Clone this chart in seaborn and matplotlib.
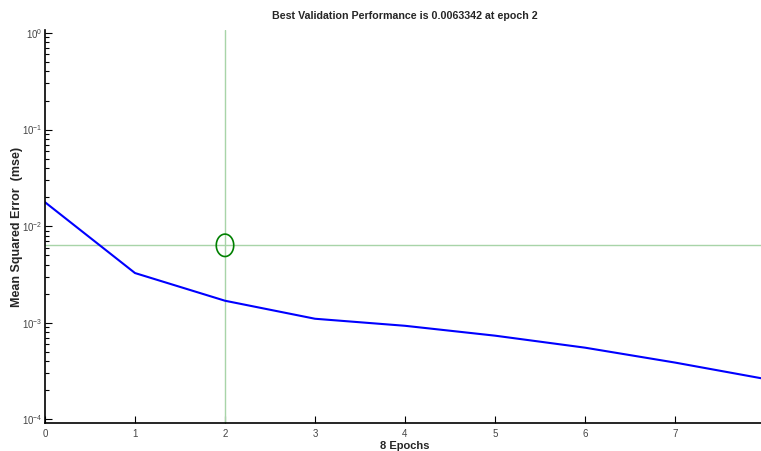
import numpy as np
import pandas as pd
import matplotlib
matplotlib.use('Agg')
import matplotlib.pyplot as plt
import seaborn as sns

# training performance per epoch
epochs = [0, 1, 2, 3, 4, 5, 6, 7, 8]
train_mse = [0.0177, 0.00327, 0.00169, 0.00110, 0.00093, 0.000735, 0.000552, 0.000387, 0.000262]
best_epoch = 2
best_perf = 0.0063342
n_epochs = 8

sns.set_style('white')
plt.rcParams['font.family'] = ['Liberation Sans', 'DejaVu Sans']
plt.rcParams['axes.unicode_minus'] = False

df = pd.DataFrame({'epoch': epochs, 'mse': train_mse})

fig = plt.figure(figsize=(7.61, 4.51), dpi=100)
ax = fig.add_axes([45 / 761, 28 / 451, 720 / 761, 393 / 451])

sns.lineplot(data=df, x='epoch', y='mse', color='#0000ff', linewidth=1.5, ax=ax)
ax.set_yscale('log')

# best validation crosshair
gc = '#a8d4a8'
ax.axvline(best_epoch, color=gc, linewidth=1.0, zorder=1)
ax.axhline(best_perf, color=gc, linewidth=1.0, zorder=1)
t = np.linspace(0, 2 * np.pi, 60)
ell = np.c_[0.78 * np.cos(t), np.sin(t)]
ax.scatter([best_epoch], [best_perf], marker=ell, s=260, facecolors='none',
           edgecolors='#008000', linewidths=1.2, zorder=4)

ax.set_xlim(0, n_epochs)
ax.set_ylim(10 ** -4.038, 10 ** 0.031)
ax.set_xticks(range(0, n_epochs))
ax.set_yticks([1e-4, 1e-3, 1e-2, 1e-1, 1e0])

for s in ['top', 'right']:
    ax.spines[s].set_visible(False)
for s in ['left', 'bottom']:
    ax.spines[s].set_color('black')
    ax.spines[s].set_linewidth(1.2)

ax.tick_params(axis='both', which='major', direction='in', length=5, width=0.8,
               labelsize=7, colors='black', labelcolor='#444444', pad=4)
ax.tick_params(axis='y', which='major', pad=2)
ax.tick_params(axis='y', which='minor', direction='in', length=3, width=0.8,
               left=True, colors='black')
ax.tick_params(axis='x', bottom=True)
ax.tick_params(axis='y', left=True)

ax.set_xlabel(f'{n_epochs} Epochs', fontsize=8, fontweight='bold', labelpad=1.5)
ax.set_ylabel('Mean Squared Error  (mse)', fontsize=9, fontweight='bold')
ax.yaxis.set_label_coords(-0.03, 0.5)
ax.set_title(f'Best Validation Performance is {best_perf} at epoch {best_epoch}',
             fontsize=7.7, fontweight='bold', pad=8)

fig.savefig('out.png', dpi=100)
